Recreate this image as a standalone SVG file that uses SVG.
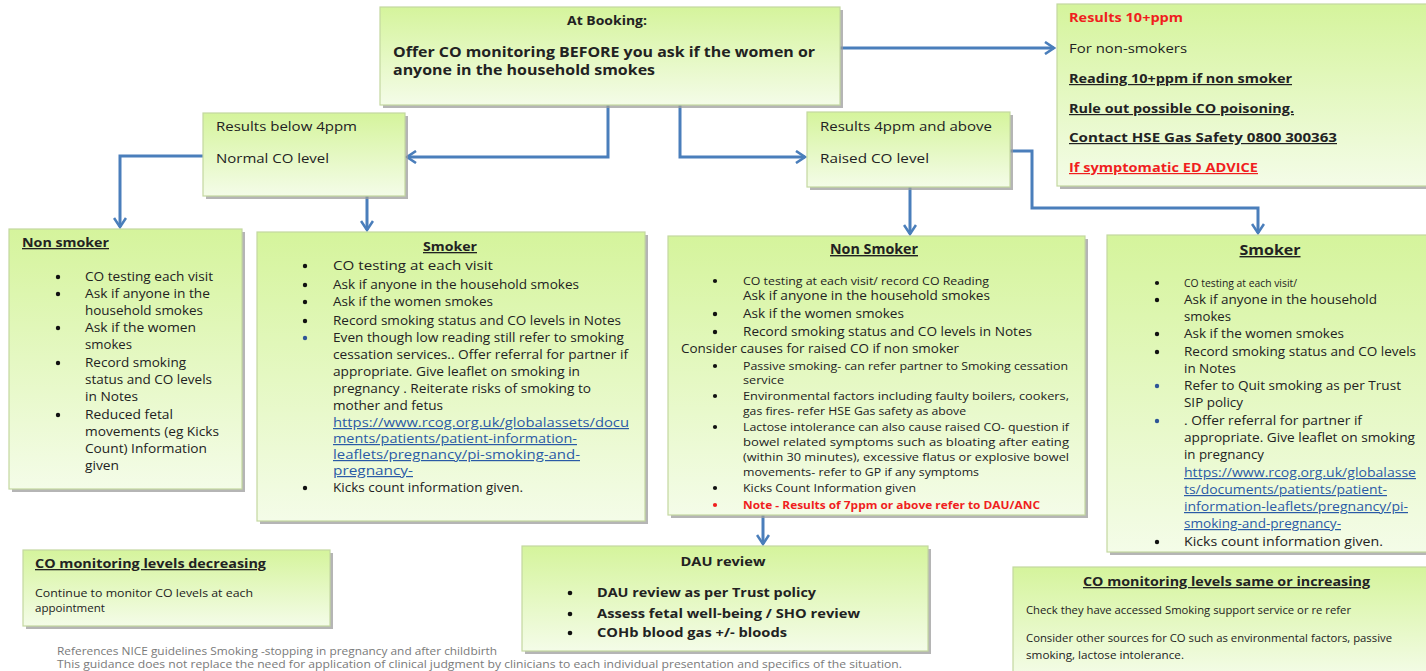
<svg xmlns="http://www.w3.org/2000/svg" width="1426" height="671" viewBox="0 0 1426 671">
  <defs>
    <linearGradient id="boxFill" x1="0" y1="0" x2="0" y2="1">
      <stop offset="0" stop-color="#d5f49c"/>
      <stop offset="1" stop-color="#f4fce8"/>
    </linearGradient>
    <marker id="chev" viewBox="0 0 14 14" refX="12" refY="7" markerWidth="14" markerHeight="14" markerUnits="userSpaceOnUse" orient="auto">
      <path d="M3,1 L12,7 L3,13" fill="none" stroke="#4a7ebb" stroke-width="2.6" stroke-linejoin="miter"/>
    </marker>
  </defs>
  <style>
    .shadow { fill: #9c9c9c; opacity: 0.75; }
    .box { fill: url(#boxFill); stroke: #c3d8a0; stroke-width: 1.2; }
    text { font-family: "Open Sans", "DejaVu Sans", sans-serif; fill: #222; }
    .b { font-weight: bold; }
    .u { text-decoration: underline; }
    .red { fill: #f01e1e; }
    .link { fill: #2a5aa6; text-decoration: underline; }
    .s10 { font-size: 10.5px; }
    .s11 { font-size: 11px; }
    .s12 { font-size: 12px; }
    .s13 { font-size: 13px; }
    .s14 { font-size: 14px; }
    .s15 { font-size: 15px; }
    .foot { font-size: 10.5px; fill: #7a7a7a; }
    .dot { fill: #111; }
    .bdot { fill: #2e5597; }
    .rdot { fill: #f01e1e; }
    .conn { fill: none; stroke: #4a7ebb; stroke-width: 3; marker-end: url(#chev); }
  </style>

  <rect width="1426" height="671" fill="#ffffff"/>

  <!-- connectors -->
  <g id="connectors">
    <path class="conn" d="M840,48 H1054"/>
    <path class="conn" d="M608,105 V157 H407"/>
    <path class="conn" d="M680,105 V157 H805"/>
    <path class="conn" d="M203,156 H120 V227"/>
    <path class="conn" d="M367,196 V230"/>
    <path class="conn" d="M910,187 V234"/>
    <path class="conn" d="M1010,151 H1032 V208 H1258 V233"/>
    <path class="conn" d="M763,515 V544"/>
  </g>

  <!-- booking -->
  <g id="booking">
    <rect class="shadow" x="383" y="10" width="460" height="98"/>
    <rect class="box" x="380" y="7" width="460" height="98"/>
    <text class="b s13" x="567" y="25" textLength="80" lengthAdjust="spacingAndGlyphs">At Booking:</text>
    <text class="b s15" x="393" y="57" textLength="422" lengthAdjust="spacingAndGlyphs">Offer CO monitoring BEFORE you ask if the women or</text>
    <text class="b s15" x="393" y="75" textLength="262" lengthAdjust="spacingAndGlyphs">anyone in the household smokes</text>
  </g>

  <!-- results 10+ppm -->
  <g id="results-10ppm">
    <rect class="shadow" x="1060" y="7" width="380" height="182"/>
    <rect class="box" x="1057" y="4" width="380" height="182"/>
    <text class="b s12 red" x="1069" y="22" textLength="114" lengthAdjust="spacingAndGlyphs">Results 10+ppm</text>
    <text class="s12" x="1069" y="53" textLength="118" lengthAdjust="spacingAndGlyphs">For non-smokers</text>
    <text class="b u s12" x="1069" y="83" textLength="223" lengthAdjust="spacingAndGlyphs">Reading  10+ppm if non smoker</text>
    <text class="b u s12" x="1069" y="113" textLength="225" lengthAdjust="spacingAndGlyphs">Rule out possible CO poisoning.</text>
    <text class="b u s12" x="1069" y="142" textLength="268" lengthAdjust="spacingAndGlyphs"> Contact HSE Gas Safety 0800 300363</text>
    <text class="b u s12 red" x="1069" y="172" textLength="189" lengthAdjust="spacingAndGlyphs">If symptomatic ED ADVICE</text>
  </g>

  <!-- results below 4ppm -->
  <g id="results-below-4ppm">
    <rect class="shadow" x="206" y="116" width="202" height="83"/>
    <rect class="box" x="203" y="113" width="202" height="83"/>
    <text class="s12" x="216" y="131" textLength="141" lengthAdjust="spacingAndGlyphs">Results below 4ppm</text>
    <text class="s12" x="216" y="163" textLength="113" lengthAdjust="spacingAndGlyphs">Normal CO level</text>
  </g>

  <!-- results 4ppm and above -->
  <g id="results-4ppm-above">
    <rect class="shadow" x="810" y="115" width="203" height="75"/>
    <rect class="box" x="807" y="112" width="203" height="75"/>
    <text class="s12" x="820" y="131" textLength="172" lengthAdjust="spacingAndGlyphs">Results 4ppm and above</text>
    <text class="s12" x="820" y="163" textLength="109" lengthAdjust="spacingAndGlyphs">Raised CO level</text>
  </g>

  <!-- normal level: non smoker -->
  <g id="normal-non-smoker">
    <rect class="shadow" x="12" y="232" width="233" height="260"/>
    <rect class="box" x="9" y="229" width="233" height="260"/>
    <text class="b u s13" x="22" y="247" textLength="87" lengthAdjust="spacingAndGlyphs">Non smoker</text>
    <circle class="dot" cx="58" cy="277" r="2.2"/>
    <text class="s12" x="85" y="281" textLength="128" lengthAdjust="spacingAndGlyphs">CO testing each visit</text>
    <circle class="dot" cx="58" cy="294" r="2.2"/>
    <text class="s12" x="85" y="298" textLength="125" lengthAdjust="spacingAndGlyphs">Ask if anyone in the</text>
    <text class="s12" x="85" y="315" textLength="118" lengthAdjust="spacingAndGlyphs">household smokes</text>
    <circle class="dot" cx="58" cy="328" r="2.2"/>
    <text class="s12" x="85" y="332" textLength="111" lengthAdjust="spacingAndGlyphs">Ask if the women</text>
    <text class="s12" x="85" y="349" textLength="47" lengthAdjust="spacingAndGlyphs">smokes</text>
    <circle class="dot" cx="58" cy="363" r="2.2"/>
    <text class="s12" x="85" y="367" textLength="101" lengthAdjust="spacingAndGlyphs">Record smoking</text>
    <text class="s12" x="85" y="384" textLength="127" lengthAdjust="spacingAndGlyphs">status and CO levels</text>
    <text class="s12" x="85" y="401" textLength="53" lengthAdjust="spacingAndGlyphs">in Notes</text>
    <circle class="dot" cx="58" cy="415" r="2.2"/>
    <text class="s12" x="85" y="419" textLength="88" lengthAdjust="spacingAndGlyphs">Reduced fetal</text>
    <text class="s12" x="85" y="436" textLength="134" lengthAdjust="spacingAndGlyphs">movements (eg Kicks</text>
    <text class="s12" x="85" y="453" textLength="122" lengthAdjust="spacingAndGlyphs">Count)  Information</text>
    <text class="s12" x="85" y="470" textLength="34" lengthAdjust="spacingAndGlyphs">given</text>
  </g>

  <!-- normal level: smoker -->
  <g id="normal-smoker">
    <rect class="shadow" x="260" y="235" width="388" height="289"/>
    <rect class="box" x="257" y="232" width="388" height="289"/>
    <text class="b u s13" x="450" y="251" text-anchor="middle" textLength="54" lengthAdjust="spacingAndGlyphs">Smoker</text>
    <circle class="dot" cx="305" cy="266" r="2.2"/>
    <text class="s13" x="333" y="270" textLength="160" lengthAdjust="spacingAndGlyphs">CO testing at each visit</text>
    <circle class="dot" cx="305" cy="285" r="2.2"/>
    <text class="s12" x="333" y="289" textLength="246" lengthAdjust="spacingAndGlyphs">Ask if anyone in the household smokes</text>
    <circle class="dot" cx="305" cy="302" r="2.2"/>
    <text class="s12" x="333" y="306" textLength="160" lengthAdjust="spacingAndGlyphs">Ask if the women smokes</text>
    <circle class="dot" cx="305" cy="321" r="2.2"/>
    <text class="s12" x="333" y="325" textLength="288" lengthAdjust="spacingAndGlyphs">Record smoking status and CO levels in Notes</text>
    <circle class="bdot" cx="305" cy="338" r="2.2"/>
    <text class="s12" x="333" y="342" textLength="291" lengthAdjust="spacingAndGlyphs">Even though low reading still refer to smoking</text>
    <text class="s12" x="333" y="359" textLength="295" lengthAdjust="spacingAndGlyphs">cessation services.. Offer referral for partner if</text>
    <text class="s12" x="333" y="376" textLength="247" lengthAdjust="spacingAndGlyphs">appropriate.  Give leaflet on smoking in</text>
    <text class="s12" x="333" y="393" textLength="258" lengthAdjust="spacingAndGlyphs">pregnancy . Reiterate risks of smoking to</text>
    <text class="s12" x="333" y="410" textLength="110" lengthAdjust="spacingAndGlyphs">mother and fetus</text>
    <text class="s12 link" x="333" y="427" textLength="296" lengthAdjust="spacingAndGlyphs">https://www.rcog.org.uk/globalassets/docu</text>
    <text class="s12 link" x="333" y="443" textLength="244" lengthAdjust="spacingAndGlyphs">ments/patients/patient-information-</text>
    <text class="s12 link" x="333" y="459" textLength="247" lengthAdjust="spacingAndGlyphs">leaflets/pregnancy/pi-smoking-and-</text>
    <text class="s12 link" x="333" y="475" textLength="80" lengthAdjust="spacingAndGlyphs">pregnancy-</text>
    <circle class="dot" cx="305" cy="488" r="2.2"/>
    <text class="s12" x="333" y="492" textLength="190" lengthAdjust="spacingAndGlyphs">Kicks count information given.</text>
  </g>

  <!-- raised level: non smoker -->
  <g id="raised-non-smoker">
    <rect class="shadow" x="671" y="239" width="417" height="279"/>
    <rect class="box" x="668" y="236" width="417" height="279"/>
    <text class="b u s14" x="874" y="254" text-anchor="middle" textLength="88" lengthAdjust="spacingAndGlyphs">Non Smoker</text>
    <circle class="dot" cx="715" cy="281" r="2.1"/>
    <text class="s11" x="743" y="285" textLength="246" lengthAdjust="spacingAndGlyphs">CO testing at each visit/ record CO Reading</text>
    <text class="s12" x="743" y="300" textLength="247" lengthAdjust="spacingAndGlyphs">Ask if anyone in the household smokes</text>
    <circle class="dot" cx="715" cy="314" r="2.2"/>
    <text class="s12" x="743" y="318" textLength="161" lengthAdjust="spacingAndGlyphs">Ask if the women smokes</text>
    <circle class="dot" cx="715" cy="332" r="2.2"/>
    <text class="s12" x="743" y="336" textLength="289" lengthAdjust="spacingAndGlyphs">Record smoking status and CO levels in Notes</text>
    <text class="s12" x="681" y="353" textLength="278" lengthAdjust="spacingAndGlyphs">Consider  causes for raised CO if non smoker</text>
    <circle class="dot" cx="715" cy="366" r="2.1"/>
    <text class="s11" x="743" y="370" textLength="325" lengthAdjust="spacingAndGlyphs">Passive smoking- can refer partner to Smoking cessation</text>
    <text class="s11" x="743" y="384" textLength="41" lengthAdjust="spacingAndGlyphs">service</text>
    <circle class="dot" cx="715" cy="396" r="2.1"/>
    <text class="s11" x="743" y="400" textLength="326" lengthAdjust="spacingAndGlyphs">Environmental factors including faulty boilers, cookers,</text>
    <text class="s11" x="743" y="415" textLength="223" lengthAdjust="spacingAndGlyphs">gas fires- refer HSE Gas safety as above</text>
    <circle class="dot" cx="715" cy="427" r="2.1"/>
    <text class="s11" x="743" y="431" textLength="326" lengthAdjust="spacingAndGlyphs">Lactose intolerance can also cause raised CO- question if</text>
    <text class="s11" x="743" y="446" textLength="326" lengthAdjust="spacingAndGlyphs">bowel related symptoms such as bloating after eating</text>
    <text class="s11" x="743" y="461" textLength="326" lengthAdjust="spacingAndGlyphs">(within 30 minutes), excessive flatus or explosive bowel</text>
    <text class="s11" x="743" y="476" textLength="236" lengthAdjust="spacingAndGlyphs">movements- refer to GP if any symptoms</text>
    <circle class="dot" cx="715" cy="488" r="2.1"/>
    <text class="s11" x="743" y="492" textLength="173" lengthAdjust="spacingAndGlyphs">Kicks Count Information given</text>
    <circle class="rdot" cx="715" cy="505" r="2.1"/>
    <text class="b s11 red" x="743" y="509" textLength="297" lengthAdjust="spacingAndGlyphs">Note - Results of 7ppm or above refer to DAU/ANC</text>
  </g>

  <!-- raised level: smoker -->
  <g id="raised-smoker">
    <rect class="shadow" x="1110" y="238" width="330" height="317"/>
    <rect class="box" x="1107" y="235" width="330" height="317"/>
    <text class="b u s14" x="1270" y="255" text-anchor="middle" textLength="61" lengthAdjust="spacingAndGlyphs">Smoker</text>
    <circle class="dot" cx="1157" cy="283" r="2.1"/>
    <text class="s11" x="1184" y="287" textLength="113" lengthAdjust="spacingAndGlyphs">CO testing at each visit/</text>
    <circle class="dot" cx="1157" cy="300" r="2.2"/>
    <text class="s12" x="1184" y="304" textLength="193" lengthAdjust="spacingAndGlyphs">Ask if anyone in the household</text>
    <text class="s12" x="1184" y="321" textLength="47" lengthAdjust="spacingAndGlyphs">smokes</text>
    <circle class="dot" cx="1157" cy="334" r="2.2"/>
    <text class="s12" x="1184" y="338" textLength="160" lengthAdjust="spacingAndGlyphs">Ask if the women smokes</text>
    <circle class="dot" cx="1157" cy="352" r="2.2"/>
    <text class="s12" x="1184" y="356" textLength="232" lengthAdjust="spacingAndGlyphs">Record smoking status and CO levels</text>
    <text class="s12" x="1184" y="373" textLength="52" lengthAdjust="spacingAndGlyphs">in Notes</text>
    <circle class="bdot" cx="1157" cy="386" r="2.2"/>
    <text class="s12" x="1184" y="390" textLength="217" lengthAdjust="spacingAndGlyphs">Refer to Quit smoking as per Trust</text>
    <text class="s12" x="1184" y="407" textLength="59" lengthAdjust="spacingAndGlyphs">SIP policy</text>
    <circle class="bdot" cx="1157" cy="421" r="2.2"/>
    <text class="s12" x="1184" y="425" textLength="178" lengthAdjust="spacingAndGlyphs">. Offer referral for partner if</text>
    <text class="s12" x="1184" y="442" textLength="231" lengthAdjust="spacingAndGlyphs">appropriate.  Give leaflet on smoking</text>
    <text class="s12" x="1184" y="459" textLength="80" lengthAdjust="spacingAndGlyphs">in pregnancy</text>
    <text class="s12 link" x="1184" y="477" textLength="232" lengthAdjust="spacingAndGlyphs">https://www.rcog.org.uk/globalasse</text>
    <text class="s12 link" x="1184" y="494" textLength="203" lengthAdjust="spacingAndGlyphs">ts/documents/patients/patient-</text>
    <text class="s12 link" x="1184" y="511" textLength="224" lengthAdjust="spacingAndGlyphs">information-leaflets/pregnancy/pi-</text>
    <text class="s12 link" x="1184" y="528" textLength="157" lengthAdjust="spacingAndGlyphs">smoking-and-pregnancy-</text>
    <circle class="dot" cx="1157" cy="542" r="2.2"/>
    <text class="s12" x="1184" y="546" textLength="199" lengthAdjust="spacingAndGlyphs">Kicks count information given.</text>
  </g>

  <!-- levels decreasing -->
  <g id="levels-decreasing">
    <rect class="shadow" x="26" y="553" width="307" height="76"/>
    <rect class="box" x="23" y="550" width="307" height="76"/>
    <text class="b u s13" x="35" y="568" textLength="231" lengthAdjust="spacingAndGlyphs">CO monitoring levels decreasing</text>
    <text class="s10" x="35" y="597" textLength="218" lengthAdjust="spacingAndGlyphs">Continue to monitor CO levels at each</text>
    <text class="s10" x="35" y="612" textLength="70" lengthAdjust="spacingAndGlyphs">appointment</text>
  </g>

  <!-- DAU review -->
  <g id="dau-review">
    <rect class="shadow" x="525" y="549" width="406" height="105"/>
    <rect class="box" x="522" y="546" width="406" height="105"/>
    <text class="b s13" x="723" y="566" text-anchor="middle" textLength="85" lengthAdjust="spacingAndGlyphs">DAU review</text>
    <circle class="dot" cx="570" cy="593" r="2.3"/>
    <text class="b s13" x="597" y="597" textLength="219" lengthAdjust="spacingAndGlyphs">DAU review as per Trust policy</text>
    <circle class="dot" cx="570" cy="614" r="2.3"/>
    <text class="b s13" x="597" y="618" textLength="263" lengthAdjust="spacingAndGlyphs">Assess fetal well-being / SHO review</text>
    <circle class="dot" cx="570" cy="633" r="2.3"/>
    <text class="b s13" x="597" y="637" textLength="190" lengthAdjust="spacingAndGlyphs">COHb blood gas +/- bloods</text>
  </g>

  <!-- levels same or increasing -->
  <g id="levels-same-increasing">
    <rect class="shadow" x="1016" y="570" width="420" height="110"/>
    <rect class="box" x="1013" y="567" width="420" height="110"/>
    <text class="b u s13" x="1083" y="586" textLength="287" lengthAdjust="spacingAndGlyphs">CO monitoring levels same or increasing</text>
    <text class="s10" x="1026" y="614" textLength="325" lengthAdjust="spacingAndGlyphs">Check they have accessed Smoking support service or re refer</text>
    <text class="s10" x="1026" y="642" textLength="366" lengthAdjust="spacingAndGlyphs">Consider other sources for CO such as environmental factors, passive</text>
    <text class="s10" x="1026" y="659" textLength="158" lengthAdjust="spacingAndGlyphs">smoking, lactose intolerance.</text>
  </g>

  <!-- references footer -->
  <g id="footer">
    <text class="foot" x="57" y="655" textLength="440" lengthAdjust="spacingAndGlyphs">References NICE guidelines Smoking -stopping in pregnancy and after childbirth</text>
    <text class="foot" x="57" y="668" textLength="845" lengthAdjust="spacingAndGlyphs">This guidance does not replace the need for application of clinical judgment by clinicians to each individual presentation and specifics of the situation.</text>
  </g>
</svg>
